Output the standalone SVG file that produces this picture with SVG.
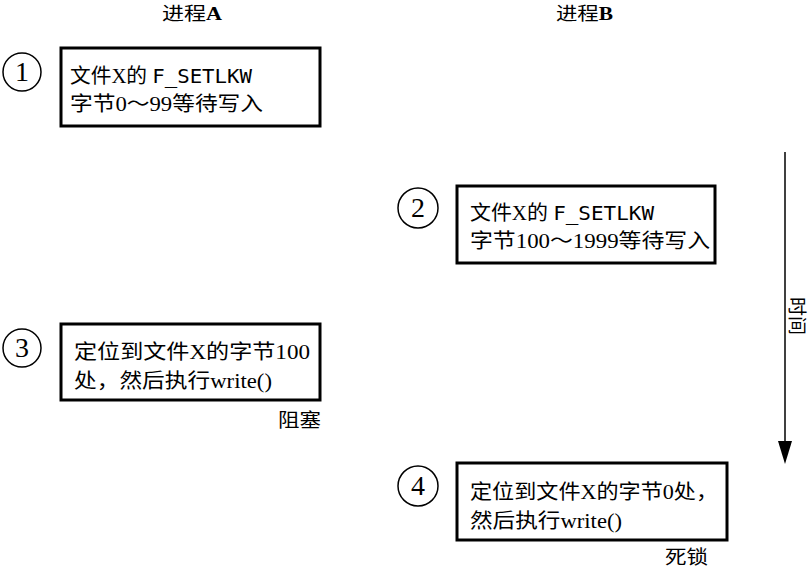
<svg xmlns="http://www.w3.org/2000/svg" width="812" height="571" viewBox="0 0 812 571">
<style>
.box{fill:#fff;stroke:#000;stroke-width:3}
.circ{fill:#fff;stroke:#000;stroke-width:1.5}
.num{font-family:"Liberation Serif",serif;font-size:28px;text-anchor:middle;fill:#000}
.t{font-family:"Liberation Serif","Noto Sans CJK SC",serif;font-size:20px;fill:#000}
.cjk{font-family:"Noto Sans CJK SC",sans-serif}
.mono{font-family:"DejaVu Sans Mono",monospace}
.hdr{font-family:"Liberation Serif","Noto Sans CJK SC",serif;font-size:18px;fill:#000}
.lbl{font-family:"Noto Sans CJK SC",sans-serif;font-size:19px;fill:#000}
</style>
<text class="hdr" x="162" y="20" textLength="60" lengthAdjust="spacingAndGlyphs"><tspan class="cjk">进程</tspan><tspan font-weight="bold">A</tspan></text>
<text class="hdr" x="556" y="20" textLength="57" lengthAdjust="spacingAndGlyphs"><tspan class="cjk">进程</tspan><tspan font-weight="bold">B</tspan></text>
<g id="n1">
<circle class="circ" cx="22" cy="72" r="19"/>
<text class="num" x="22" y="81">1</text>
<rect class="box" x="61" y="48" width="259" height="78"/>
<text class="t" x="70" y="83" textLength="182" lengthAdjust="spacingAndGlyphs"><tspan class="cjk">文件</tspan>X<tspan class="cjk">的</tspan> <tspan class="mono">F_SETLKW</tspan></text>
<text class="t" x="70" y="111" textLength="193" lengthAdjust="spacingAndGlyphs"><tspan class="cjk">字节</tspan>0～99<tspan class="cjk">等待写入</tspan></text>
</g>
<g id="n2">
<circle class="circ" cx="418" cy="208" r="20"/>
<text class="num" x="418" y="217">2</text>
<rect class="box" x="457" y="186" width="258" height="77"/>
<text class="t" x="470" y="220" textLength="184" lengthAdjust="spacingAndGlyphs"><tspan class="cjk">文件</tspan>X<tspan class="cjk">的</tspan> <tspan class="mono">F_SETLKW</tspan></text>
<text class="t" x="470" y="248" textLength="240" lengthAdjust="spacingAndGlyphs"><tspan class="cjk">字节</tspan>100～1999<tspan class="cjk">等待写入</tspan></text>
</g>
<g id="n3">
<circle class="circ" cx="22" cy="348" r="19"/>
<text class="num" x="22" y="357">3</text>
<rect class="box" x="61" y="324" width="259" height="76"/>
<text class="t" x="74" y="359" textLength="236" lengthAdjust="spacingAndGlyphs"><tspan class="cjk">定位到文件</tspan>X<tspan class="cjk">的字节</tspan>100</text>
<text class="t" x="74" y="388" textLength="198" lengthAdjust="spacingAndGlyphs"><tspan class="cjk">处，然后执行</tspan>write()</text>
<text class="lbl" x="278" y="427" textLength="43" lengthAdjust="spacingAndGlyphs">阻塞</text>
</g>
<g id="n4">
<circle class="circ" cx="418" cy="486" r="20"/>
<text class="num" x="418" y="495">4</text>
<rect class="box" x="457" y="463" width="270" height="77"/>
<text class="t" x="470" y="499" textLength="248" lengthAdjust="spacingAndGlyphs"><tspan class="cjk">定位到文件</tspan>X<tspan class="cjk">的字节</tspan>0<tspan class="cjk">处，</tspan></text>
<text class="t" x="470" y="528" textLength="152" lengthAdjust="spacingAndGlyphs"><tspan class="cjk">然后执行</tspan>write()</text>
<text class="lbl" x="665" y="564" textLength="43" lengthAdjust="spacingAndGlyphs">死锁</text>
</g>
<g id="connectors">
<line x1="785" y1="152" x2="785" y2="446" stroke="#000" stroke-width="1.5"/>
<polygon points="778,441 792,441 785,464" fill="#000"/>
<text class="lbl" transform="translate(797,316) rotate(90)" text-anchor="middle" y="7" font-size="20">时间</text>
</g>
</svg>
